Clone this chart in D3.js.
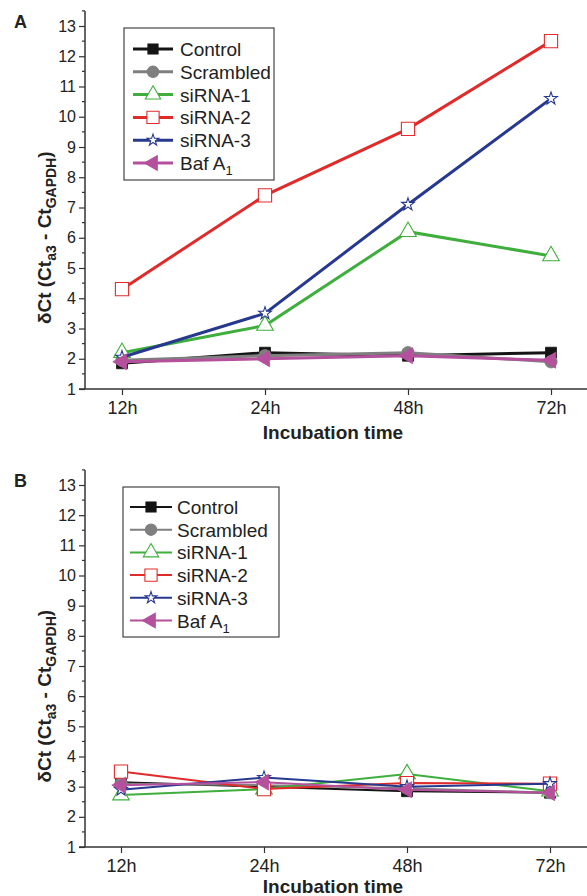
<!DOCTYPE html>
<html>
<head>
<meta charset="utf-8">
<script src="https://cdn.jsdelivr.net/npm/d3@7"></script>
<style>
    body { margin: 0; background: #fff; }
    svg text { font-family: "Liberation Sans", Arial, sans-serif; fill: #222; }
</style>
</head>
<body>
<script>
(function(){

//x categories and y ticks
var timeLabels = ["12h", "24h", "48h", "72h"];
var yTicks = [1, 2, 3, 4, 5, 6, 7, 8, 9, 10, 11, 12, 13];
var seriesNames = ["Control", "Scrambled", "siRNA-1", "siRNA-2", "siRNA-3", "Baf A1"];

//panel A values
var controlA   = [1.85, 2.2, 2.1, 2.2];
var scrambledA = [1.95, 2.1, 2.2, 1.9];
var sirna1A    = [2.2, 3.1, 6.2, 5.4];
var sirna2A    = [4.3, 7.4, 9.6, 12.5];
var sirna3A    = [2.05, 3.5, 7.1, 10.6];
var bafA       = [1.9, 2.0, 2.1, 1.95];

//panel B values
var controlB   = [3.15, 3.0, 2.85, 2.8];
var scrambledB = [3.1, 3.05, 2.95, 2.8];
var sirna1B    = [2.72, 2.92, 3.42, 2.85];
var sirna2B    = [3.5, 2.92, 3.12, 3.1];
var sirna3B    = [2.9, 3.3, 3.0, 3.1];
var bafB       = [3.05, 3.15, 2.9, 2.8];

//series styles, same order as seriesNames
var colors = ["#141414", "#7f7f7f", "#3fae3c", "#e12b2b", "#27398f", "#b4509c"];
var symbols = [d3.symbolSquare, d3.symbolCircle, d3.symbolTriangle, d3.symbolSquare, d3.symbolStar, d3.symbolTriangle];
var symbolSizes = [120, 120, 120, 175, 50, 110];
var filled = [true, true, false, false, false, true];
var rotations = [0, 0, 0, 0, 0, -90];

var width = 587, height = 896;

var svg = d3.select("body")
    .append("svg")
    .attr("width", width)
    .attr("height", height);

//panel settings
var panels = [
    {label: "A", data: [controlA, scrambledA, sirna1A, sirna2A, sirna3A, bafA],
     y0: 389, y13: 26, x0: 122, x3: 551, lineW: 3, titleDy: 50,
     legend: {x: 124, y: 28, w: 150, h: 152, row0: 49, step: 22.8, lx0: 133, lx1: 173, tx: 180}},
    {label: "B", data: [controlB, scrambledB, sirna1B, sirna2B, sirna3B, bafB],
     y0: 847, y13: 485, x0: 121, x3: 550, lineW: 2, titleDy: 46,
     legend: {x: 123, y: 487, w: 156, h: 150, row0: 507, step: 22.7, lx0: 130, lx1: 172, tx: 177}}
];

panels.forEach(drawPanel);

function drawPanel(p){
    var axisX = 85;

    var yScale = d3.scaleLinear()
        .domain([1, 13])
        .range([p.y0, p.y13]);

    var xScale = d3.scalePoint()
        .domain(timeLabels)
        .range([p.x0, p.x3]);

    var g = svg.append("g").attr("class", "panel" + p.label);

    //y axis with minor ticks at halves
    var yAxis = g.append("g")
        .attr("transform", "translate(" + axisX + ",0)")
        .call(d3.axisLeft(yScale).tickValues(yTicks).tickSize(6).tickFormat(d3.format("d")));
    yAxis.select(".domain").remove();
    yAxis.selectAll("text").attr("font-size", 16).attr("x", -9);

    var minor = d3.range(1.5, 13.6, 1);
    g.selectAll(".minorY")
        .data(minor)
        .enter()
        .append("line")
        .attr("x1", axisX - 3)
        .attr("x2", axisX)
        .attr("y1", function(d){ return yScale(d); })
        .attr("y2", function(d){ return yScale(d); })
        .attr("stroke", "#333")
        .attr("stroke-width", 1.2);

    g.append("line")
        .attr("x1", axisX).attr("x2", axisX)
        .attr("y1", yScale(13.5)).attr("y2", p.y0)
        .attr("stroke", "#333").attr("stroke-width", 1.5);

    //x axis
    var xAxis = g.append("g")
        .attr("transform", "translate(0," + p.y0 + ")")
        .call(d3.axisBottom(xScale).tickSize(6).tickPadding(6));
    xAxis.select(".domain").remove();
    xAxis.selectAll("text").attr("font-size", 18);
    g.append("line")
        .attr("x1", axisX - 6).attr("x2", width)
        .attr("y1", p.y0).attr("y2", p.y0)
        .attr("stroke", "#333").attr("stroke-width", 1.5);
    g.selectAll(".tick line").attr("stroke", "#333").attr("stroke-width", 1.2);

    //axis titles
    g.append("text")
        .attr("x", 333)
        .attr("y", p.y0 + p.titleDy)
        .attr("text-anchor", "middle")
        .attr("font-size", 19)
        .attr("font-weight", "bold")
        .text("Incubation time");

    var yTitle = g.append("text")
        .attr("transform", "translate(51," + yScale(6.0) + ") rotate(-90)")
        .attr("text-anchor", "middle")
        .attr("font-size", 19)
        .attr("font-weight", "bold");
    yTitle.append("tspan").text("\u03b4Ct (Ct");
    yTitle.append("tspan").attr("font-size", 14).attr("dy", 5).text("a3");
    yTitle.append("tspan").attr("dy", -5).text(" - Ct");
    yTitle.append("tspan").attr("font-size", 14).attr("dy", 5).text("GAPDH");
    yTitle.append("tspan").attr("dy", -5).text(")");

    //panel letter
    g.append("text")
        .attr("x", 14)
        .attr("y", p.y13 + 2)
        .attr("font-size", 18)
        .attr("font-weight", "bold")
        .text(p.label);

    //series lines and markers
    var line = d3.line()
        .x(function(d, i){ return xScale(timeLabels[i]); })
        .y(function(d){ return yScale(d); });

    p.data.forEach(function(values, s){
        g.append("path")
            .datum(values)
            .attr("fill", "none")
            .attr("stroke", colors[s])
            .attr("stroke-width", p.lineW)
            .attr("d", line);

        g.selectAll(".m" + s)
            .data(values)
            .enter()
            .append("path")
            .attr("class", "m" + s)
            .attr("d", d3.symbol().type(symbols[s]).size(symbolSizes[s]))
            .attr("transform", function(d, i){
                return "translate(" + xScale(timeLabels[i]) + "," + yScale(d) + ") rotate(" + rotations[s] + ")";
            })
            .attr("fill", filled[s] ? colors[s] : "#fff")
            .attr("stroke", colors[s])
            .attr("stroke-width", filled[s] ? 0.8 : 1.1);
    });

    drawLegend(g, p);
}

//legend box with sample lines
function drawLegend(g, p){
    var L = p.legend;
    g.append("rect")
        .attr("x", L.x).attr("y", L.y)
        .attr("width", L.w).attr("height", L.h)
        .attr("fill", "#fff")
        .attr("stroke", "#444")
        .attr("stroke-width", 1.2);

    var rows = g.selectAll(".legendRow")
        .data(seriesNames)
        .enter()
        .append("g")
        .attr("transform", function(d, i){ return "translate(0," + (L.row0 + i * L.step) + ")"; });

    rows.append("line")
        .attr("x1", L.lx0).attr("x2", L.lx1)
        .attr("stroke", function(d, i){ return colors[i]; })
        .attr("stroke-width", p.lineW);

    rows.append("path")
        .attr("d", function(d, i){ return d3.symbol().type(symbols[i]).size(symbolSizes[i] * 0.85)(); })
        .attr("transform", function(d, i){
            return "translate(" + ((L.lx0 + L.lx1) / 2) + ",0) rotate(" + rotations[i] + ")";
        })
        .attr("fill", function(d, i){ return filled[i] ? colors[i] : "#fff"; })
        .attr("stroke", function(d, i){ return colors[i]; })
        .attr("stroke-width", 1.1);

    var labels = rows.append("text")
        .attr("x", L.tx)
        .attr("y", 7)
        .attr("font-size", 19);
    labels.append("tspan").text(function(d){ return d === "Baf A1" ? "Baf A" : d; });
    labels.filter(function(d){ return d === "Baf A1"; })
        .append("tspan")
        .attr("font-size", 13)
        .attr("dy", 5)
        .text("1");
}

})();
</script>
</body>
</html>
